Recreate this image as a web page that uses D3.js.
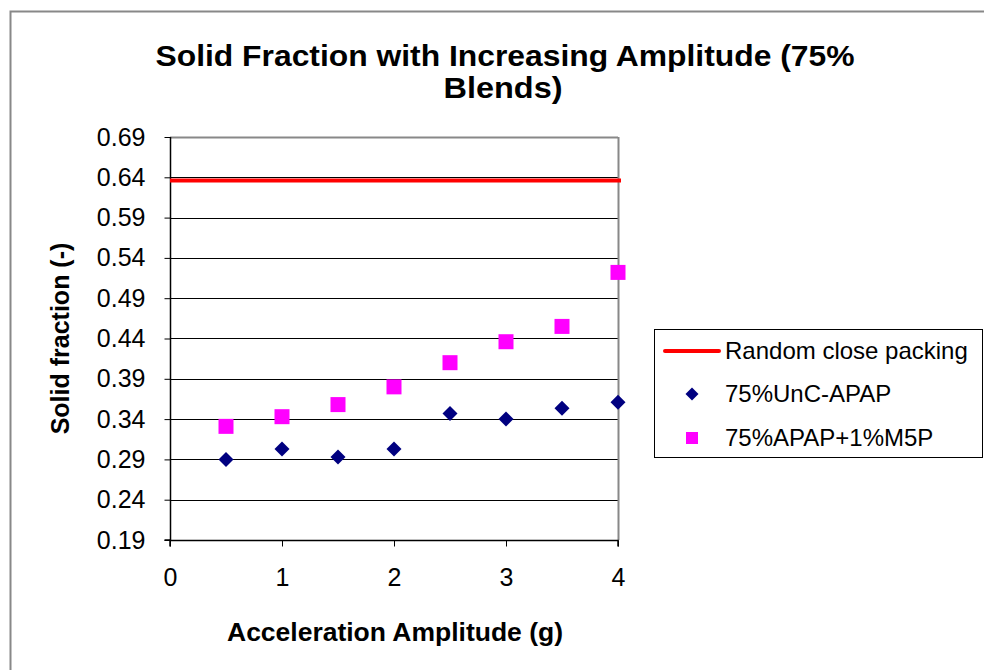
<!DOCTYPE html>
<html><head><meta charset="utf-8">
<script src="https://cdn.jsdelivr.net/npm/d3@7"></script>
<style>body{margin:0;background:#fff}svg{display:block}text{font-family:"Liberation Sans",Arial,sans-serif}</style>
</head><body><svg id="c" width="984" height="670"></svg>
<script>
const amplitudes = [0.5, 1, 1.5, 2, 2.5, 3, 3.5, 4];
const uncApap = [0.290, 0.303, 0.293, 0.303, 0.347, 0.340, 0.3535, 0.361];
const apapM5P = [0.331, 0.343, 0.358, 0.380, 0.410, 0.436, 0.455, 0.522];
const rcp = 0.636;
const xTicks = [0, 1, 2, 3, 4];
const yTicks = [0.19, 0.24, 0.29, 0.34, 0.39, 0.44, 0.49, 0.54, 0.59, 0.64, 0.69];
const seriesNames = ["Random close packing", "75%UnC-APAP", "75%APAP+1%M5P"];

const svg = d3.select("#c");
const L = 170, R = 618, T = 137, B = 540;
const x = d3.scaleLinear().domain([0, 4]).range([L, R]);
const y = d3.scaleLinear().domain([0.19, 0.69]).range([B, T]);

function fitWidth(sel, w) {
  sel.attr("textLength", w).attr("lengthAdjust", "spacingAndGlyphs");
}

// outer chart border
svg.append("rect").attr("x", 10.5).attr("y", 11.5).attr("width", 1000).attr("height", 700)
  .attr("fill", "#fff").attr("stroke", "#888").attr("stroke-width", 2);

// gridlines
svg.append("g").selectAll("line").data(yTicks.slice(1)).join("line")
  .attr("x1", L).attr("x2", R)
  .attr("y1", d => Math.round(y(d)) + 0.5).attr("y2", d => Math.round(y(d)) + 0.5)
  .attr("stroke", (d, i) => i === yTicks.length - 2 ? "#888" : "#000").attr("stroke-width", 1);
svg.append("line").attr("x1", R + 0.5).attr("x2", R + 0.5).attr("y1", T).attr("y2", B)
  .attr("stroke", "#888").attr("stroke-width", 2);
svg.append("line").attr("x1", L).attr("x2", R).attr("y1", T + 0.5).attr("y2", T + 0.5)
  .attr("stroke", "#888").attr("stroke-width", 2);

// axes
const yAxis = d3.axisLeft(y).tickValues(yTicks).tickFormat(d3.format(".2f")).tickSize(6).tickPadding(19);
const gy = svg.append("g").attr("transform", `translate(${L + 0.5},0)`).call(yAxis);
const xAxis = d3.axisBottom(x).tickValues(xTicks).tickFormat(d3.format("d")).tickSize(6).tickPadding(22);
const gx = svg.append("g").attr("transform", `translate(0,${B + 0.5})`).call(xAxis);
[gy, gx].forEach(g => {
  g.attr("font-size", 25).attr("font-family", "Liberation Sans, Arial, sans-serif");
  g.select(".domain").attr("stroke", "#000").attr("stroke-width", 1.5);
  g.selectAll(".tick line").attr("stroke", "#000");
  g.selectAll("text").attr("fill", "#000");
});
gy.select(".domain").attr("d", `M-6,${B}H0V${T}`);
gx.select(".domain").attr("d", `M${L},6V0H${R}V6`);

// red line
svg.append("line").attr("x1", x(0)).attr("x2", x(4) + 3).attr("y1", y(rcp)).attr("y2", y(rcp))
  .attr("stroke", "#ff0000").attr("stroke-width", 4);

// markers
const diamond = s => `M0,${-s}L${s},0L0,${s}L${-s},0Z`;
svg.append("g").selectAll("path").data(amplitudes).join("path")
  .attr("transform", (d, i) => `translate(${x(d)},${y(uncApap[i])})`)
  .attr("d", diamond(7.5)).attr("fill", "#000080");
svg.append("g").selectAll("rect").data(amplitudes).join("rect")
  .attr("x", d => x(d) - 7.5).attr("y", (d, i) => y(apapM5P[i]) - 7.5)
  .attr("width", 15).attr("height", 15).attr("fill", "#ff00ff");

// title
const t1 = svg.append("text").attr("x", 505).attr("y", 66).attr("text-anchor", "middle")
  .attr("font-weight", "bold").attr("font-size", 29).attr("fill", "#000")
  .text("Solid Fraction with Increasing Amplitude (75%");
fitWidth(t1, 699);
const t2 = svg.append("text").attr("x", 503).attr("y", 98).attr("text-anchor", "middle")
  .attr("font-weight", "bold").attr("font-size", 29).attr("fill", "#000").text("Blends)");
fitWidth(t2, 119);

// axis titles
svg.append("text").attr("x", 395).attr("y", 641).attr("text-anchor", "middle")
  .attr("font-weight", "bold").attr("font-size", 25).text("Acceleration Amplitude (g)")
  .call(s => fitWidth(s, 336));
svg.append("text").attr("transform", `translate(69,${(T + B) / 2}) rotate(-90)`)
  .attr("text-anchor", "middle").attr("font-weight", "bold").attr("font-size", 25).text("Solid fraction (-)");

// legend
const lg = svg.append("g");
lg.append("rect").attr("x", 654.5).attr("y", 329.5).attr("width", 328).attr("height", 128)
  .attr("fill", "#fff").attr("stroke", "#000").attr("stroke-width", 1);
const rows = [351, 394, 438];
lg.append("line").attr("x1", 665).attr("x2", 719).attr("y1", rows[0]).attr("y2", rows[0])
  .attr("stroke", "#ff0000").attr("stroke-width", 4).attr("stroke-linecap", "round");
lg.append("path").attr("transform", `translate(692,${rows[1]})`).attr("d", diamond(6.5)).attr("fill", "#000080");
lg.append("rect").attr("x", 686).attr("y", rows[2] - 6).attr("width", 12).attr("height", 12).attr("fill", "#ff00ff");
lg.selectAll("text.l").data(seriesNames).join("text").attr("class", "l")
  .attr("x", 725).attr("y", (d, i) => rows[i]).attr("dy", "0.35em")
  .attr("font-size", 24).attr("fill", "#000").text(d => d);
</script></body></html>
